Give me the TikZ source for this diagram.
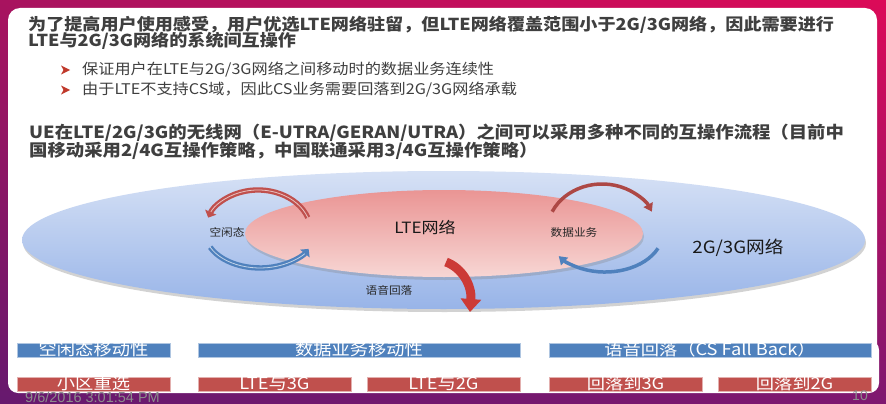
\documentclass[tikz,border=0pt]{standalone}
\usepackage{fontspec}
\setmainfont{Noto Sans CJK SC}[FakeStretch=1.1]
\newfontfamily\footfont{Liberation Sans}
\usetikzlibrary{arrows.meta,shadows,shadings}

\definecolor{frametl}{HTML}{A8135F}
\definecolor{frametr}{HTML}{DC0A58}
\definecolor{framebl}{HTML}{66196E}
\definecolor{framebr}{HTML}{7E1870}
\definecolor{textgrey}{HTML}{3F3F3F}
\definecolor{footgrey}{HTML}{8C8C8C}
\definecolor{markred}{HTML}{C0392B}
\definecolor{blueA}{HTML}{D6E1F5}
\definecolor{blueB}{HTML}{98B4E8}
\definecolor{pinkA}{HTML}{EA9594}
\definecolor{pinkB}{HTML}{F7D6D4}
\definecolor{arcred}{HTML}{C0504D}
\definecolor{arcblue}{HTML}{4F81BD}
\definecolor{barblue}{HTML}{4F81BD}
\definecolor{barred}{HTML}{C0504D}
\definecolor{fbred}{HTML}{CC3A36}

\newcommand{\barlabel}[1]{\raisebox{-0.36em}[0pt][0pt]{#1}}

\begin{document}
\begin{tikzpicture}[x=1pt,y=-1pt,
    heading/.style={anchor=west,inner sep=0pt,text=textgrey,font=\fontsize{16.7}{17}\selectfont\bfseries},
    title/.style={heading,font=\fontsize{16.45}{17}\selectfont\bfseries},
    bullettext/.style={anchor=west,inner sep=0pt,text=textgrey,font=\fontsize{14.7}{16}\selectfont},
    bulletmark/.style={fill=markred},
    smalltext/.style={inner sep=0pt,text=black!85,font=\fontsize{10.6}{11}\selectfont},
    bigtext/.style={inner sep=0pt,text=black!90,font=\fontsize{15.5}{16}\selectfont},
    bar/.style={line width=0.6pt,inner sep=0pt,minimum height=14pt,text=white,font=\fontsize{16.6}{17}\selectfont},
    bluebar/.style={bar,fill=barblue,draw=barblue!45!white},
    redbar/.style={bar,fill=barred,draw=barred!45!white},
    idlearc/.style={draw=#1,double=white!65!#1,double distance=0.8pt,line width=2.3pt,-{Triangle[width=12pt,length=6pt,fill=#1]}},
    dataarc/.style={draw=#1,line width=3.5pt,-{Triangle[width=10pt,length=8pt]}},
  ]
\useasboundingbox (0,0) rectangle (886,404);

\shade[upper left=frametl,upper right=frametr,lower left=framebl,lower right=framebr] (0,0) rectangle (886,404);
\fill[white,rounded corners=12pt] (8,8) rectangle (877,371);
\fill[white,rounded corners=10pt] (8,340) rectangle (879,393);

\node[title] (T1) at (28,25) {为了提高用户使用感受，用户优选LTE网络驻留，但LTE网络覆盖范围小于2G/3G网络，因此需要进行};
\node[title] (T2) at (28,41) {LTE与2G/3G网络的系统间互操作};

\node[bullettext] (P1) at (82,70) {保证用户在LTE与2G/3G网络之间移动时的数据业务连续性};
\node[bullettext] (P2) at (82,90) {由于LTE不支持CS域，因此CS业务需要回落到2G/3G网络承载};
\fill[bulletmark] ([xshift=-21pt]P1.west) ++(0,-4.5) -- ++(9,4.5) -- ++(-9,4.5) -- ++(2.5,-4.5) -- cycle;
\fill[bulletmark] ([xshift=-21pt]P2.west) ++(0,-4.5) -- ++(9,4.5) -- ++(-9,4.5) -- ++(2.5,-4.5) -- cycle;

\node[heading] (H1) at (29,133) {UE在LTE/2G/3G的无线网（E-UTRA/GERAN/UTRA）之间可以采用多种不同的互操作流程（目前中};
\node[heading] (H2) at (29,151) {国移动采用2/4G互操作策略，中国联通采用3/4G互操作策略）};

\shade[top color=blueA,bottom color=blueB,drop shadow={shadow xshift=1pt,shadow yshift=-3pt,opacity=0.35}] (443.5,240) ellipse[x radius=421.5,y radius=69];
\shade[top color=pinkA,bottom color=pinkB,drop shadow={shadow xshift=1pt,shadow yshift=-3pt,opacity=0.3}] (444,233.5) ellipse[x radius=199,y radius=43.5];

\node[bigtext] (LTE) at (425,227) {LTE网络};
\node[bigtext,font=\fontsize{17}{18}\selectfont] (G23) at (738,248) {2G/3G网络};
\node[smalltext] (idle) at (227,232) {空闲态};
\node[smalltext] (data) at (574,232) {数据业务};
\node[smalltext] (voice) at (389,290) {语音回落};

\coordinate (iR) at (307.8,217.6);
\coordinate (iB) at (210.2,247.2);
\coordinate (dR) at (552.2,211.7);
\coordinate (dB) at (658,248.3);
\coordinate (fb) at (446,262);

\draw[idlearc=arcred] (iR) arc[start angle=-20,end angle=-160,x radius=53,y radius=42];
\draw[idlearc=arcblue] (iB) arc[start angle=155,end angle=28,x radius=55,y radius=36];
\draw[dataarc=arcred!90!black] (dR) arc[start angle=-155,end angle=-25,x radius=55,y radius=48];
\draw[dataarc=arcblue] (dB) arc[start angle=24,end angle=143,x radius=58,y radius=40];
\draw[fbred,line width=9pt,-{Triangle[width=20pt,length=13pt]}] (fb) .. controls (462,268) and (472,285) .. (470,312);

\node[bluebar,minimum width=153pt] (M1) at (93.5,350) {\barlabel{空闲态移动性}};
\node[bluebar,minimum width=322pt] (M2) at (359,350) {\barlabel{数据业务移动性}};
\node[bluebar,minimum width=322pt] (M3) at (710,350) {\barlabel{语音回落（CS Fall Back）}};

\node[redbar,minimum width=153pt] (R1) at (93.5,384) {\barlabel{小区重选}};
\node[redbar,minimum width=153pt] (R2) at (274.5,384) {\barlabel{LTE与3G}};
\node[redbar,minimum width=153pt] (R3) at (443.5,384) {\barlabel{LTE与2G}};
\node[redbar,minimum width=153pt] (R4) at (625.5,384) {\barlabel{回落到3G}};
\node[redbar,minimum width=153pt] (R5) at (794.5,384) {\barlabel{回落到2G}};

\node[anchor=west,inner sep=0pt,text=footgrey,font=\footfont\fontsize{14.5}{15}\selectfont] (date) at (25,397) {9/6/2016 3:01:54 PM};
\node[inner sep=0pt,text=footgrey,font=\footfont\fontsize{14}{15}\selectfont] (page) at (860,396) {10};
\end{tikzpicture}
\end{document}
